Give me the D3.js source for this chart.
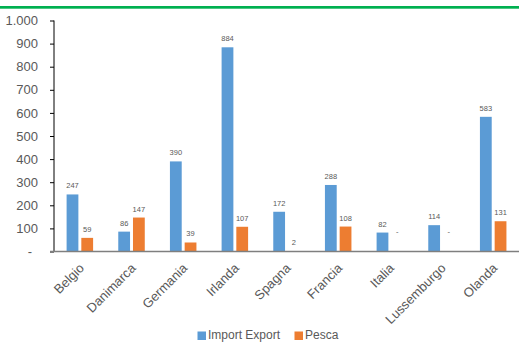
<!DOCTYPE html>
<html><head><meta charset="utf-8">
<script src="https://cdn.jsdelivr.net/npm/d3@7"></script>
<style>body{margin:0;background:#fff}svg{display:block;font-family:"Liberation Sans",Arial,sans-serif}</style>
</head><body>
<script>
const categories = ["Belgio","Danimarca","Germania","Irlanda","Spagna","Francia","Italia","Lussemburgo","Olanda"];
const seriesNames = ["Import Export","Pesca"];
const importExport = [247,86,390,884,172,288,82,114,583];
const pesca = [59,147,39,107,2,108,0,0,131];
const yTicks = [0,100,200,300,400,500,600,700,800,900,1000];
const colors = ["#5b9bd5","#ed7d31"];

const W=519,H=342;
const svg=d3.select("body").append("svg").attr("width",W).attr("height",H);
svg.append("rect").attr("x",0).attr("y",6).attr("width",W).attr("height",2.7).attr("fill","#00b050");

const x0=d3.scaleBand().domain(categories).range([54,519]).padding(0);
const x1=d3.scaleBand().domain(seriesNames).range([12.6,39.1]).paddingInner(0.2);
const y=d3.scaleLinear().domain([0,1000]).range([251.5,20.5]);
const fmt=v=>v===0?"-":d3.format(",")(v).replace(/,/g,".");

// y axis
const yAxis=svg.append("g").attr("transform","translate(54,0)")
  .call(d3.axisLeft(y).tickValues(yTicks).tickSize(4).tickPadding(0).tickFormat(fmt));
yAxis.select(".domain").attr("stroke","#000").attr("d","M0,20.5V251.5");
yAxis.selectAll(".tick line").attr("stroke","#000");
yAxis.selectAll(".tick text").attr("fill","#595959").attr("font-size","13px")
  .attr("x",-16).attr("font-family","Liberation Sans, Arial, sans-serif");
yAxis.selectAll(".tick text").filter(d=>d===0).attr("x",-24).attr("text-anchor","middle");

const data=categories.map((c,i)=>({c,vals:[importExport[i],pesca[i]]}));
const g=svg.append("g").selectAll("g").data(data).join("g").attr("transform",d=>`translate(${x0(d.c)},0)`);
g.selectAll("rect").data(d=>d.vals.map((v,k)=>({k,v}))).join("rect")
  .attr("x",d=>x1(seriesNames[d.k])).attr("width",x1.bandwidth())
  .attr("y",d=>y(d.v)).attr("height",d=>y(0)-y(d.v)).attr("fill",d=>colors[d.k]);
g.selectAll("text").data(d=>d.vals.map((v,k)=>({k,v}))).join("text")
  .attr("x",d=>x1(seriesNames[d.k])+x1.bandwidth()/2)
  .attr("y",d=>d.v===0?y(0)-18:y(d.v)-6)
  .attr("text-anchor","middle").attr("font-size","7.5px").attr("fill","#595959")
  .text(d=>fmt(d.v));

// baseline
svg.append("line").attr("x1",50).attr("x2",519).attr("y1",y(0)).attr("y2",y(0)).attr("stroke","#7f7f7f").attr("stroke-width",1.5);

// category labels
svg.append("g").selectAll("text").data(categories).join("text")
  .attr("transform",d=>`translate(${x0(d)+x0.bandwidth()/2+5},${269}) rotate(-45)`)
  .attr("text-anchor","end").attr("font-size","13px").attr("fill","#595959").text(d=>d);

// legend
const leg=svg.append("g");
const lx=[197.5,294.5];
seriesNames.forEach((s,i)=>{
  leg.append("rect").attr("x",lx[i]).attr("y",331.5).attr("width",8.5).attr("height",8.5).attr("fill",colors[i]);
  leg.append("text").attr("x",lx[i]+10.5).attr("y",339.3).attr("font-size","12px").attr("fill","#595959").text(s);
});
</script>
</body></html>
